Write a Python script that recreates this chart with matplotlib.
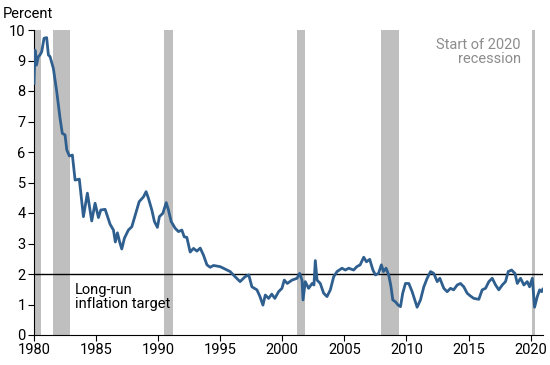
import matplotlib
matplotlib.use("Agg")
import matplotlib.pyplot as plt

# inflation series (decimal year, percent)
dates = [1980.0, 1980.08, 1980.2, 1980.35, 1980.48, 1980.62, 1980.81, 1981.02, 1981.16, 1981.29,
         1981.56, 1981.83, 1982.1, 1982.28, 1982.5, 1982.64, 1982.85, 1983.09, 1983.31, 1983.65,
         1983.98, 1984.3, 1984.65, 1984.92, 1985.19, 1985.38, 1985.73, 1986.13, 1986.4, 1986.55,
         1986.72, 1986.9, 1987.07, 1987.28, 1987.6, 1987.88, 1988.15, 1988.47, 1988.82, 1989.03,
         1989.22, 1989.49, 1989.7, 1989.94, 1990.1, 1990.38, 1990.65, 1990.83, 1991.05, 1991.37,
         1991.64, 1991.91, 1992.1, 1992.31, 1992.58, 1992.85, 1993.12, 1993.39, 1993.65, 1993.93,
         1994.19, 1994.46, 1995.0, 1995.54, 1995.8, 1996.2, 1996.6, 1997.0, 1997.3, 1997.55,
         1997.96, 1998.2, 1998.44, 1998.63, 1998.9, 1999.15, 1999.4, 1999.7, 1999.97, 2000.16,
         2000.4, 2000.78, 2001.19, 2001.4, 2001.59, 2001.67, 2001.85, 2002.12, 2002.4, 2002.55,
         2002.66, 2002.8, 2003.06, 2003.33, 2003.6, 2003.87, 2004.14, 2004.41, 2004.81, 2005.08,
         2005.35, 2005.75, 2006.0, 2006.27, 2006.56, 2006.78, 2007.04, 2007.3, 2007.5, 2007.75,
         2007.98, 2008.15, 2008.36, 2008.57, 2008.75, 2008.9, 2009.11, 2009.33, 2009.52, 2009.7,
         2009.92, 2010.19, 2010.46, 2010.67, 2010.86, 2011.13, 2011.4, 2011.67, 2011.94, 2012.2,
         2012.48, 2012.69, 2013.01, 2013.28, 2013.55, 2013.8, 2014.09, 2014.35, 2014.62, 2014.89,
         2015.15, 2015.43, 2015.83, 2016.1, 2016.37, 2016.64, 2016.91, 2017.18, 2017.44, 2017.72,
         2017.98, 2018.2, 2018.47, 2018.74, 2018.93, 2019.19, 2019.46, 2019.73, 2019.92, 2020.14,
         2020.32, 2020.54, 2020.73, 2020.89, 2020.98]
inflation = [8.25, 9.34, 8.85, 9.13, 9.18, 9.29, 9.73, 9.75, 9.18, 9.13,
             8.74, 7.98, 7.1, 6.61, 6.56, 6.07, 5.87, 5.9, 5.08, 5.11,
             3.88, 4.65, 3.74, 4.32, 3.85, 4.1, 4.12, 3.63, 3.44, 3.05,
             3.35, 3.05, 2.82, 3.17, 3.44, 3.55, 3.93, 4.37, 4.53, 4.7,
             4.48, 4.1, 3.72, 3.53, 3.88, 3.99, 4.34, 4.1, 3.72, 3.5,
             3.39, 3.44, 3.22, 3.2, 2.72, 2.84, 2.75, 2.85, 2.62, 2.3,
             2.22, 2.28, 2.24, 2.13, 2.08, 1.91, 1.75, 1.91, 1.97, 1.58,
             1.48, 1.26, 0.98, 1.31, 1.2, 1.34, 1.2, 1.42, 1.53, 1.8,
             1.69, 1.8, 1.86, 2.02, 1.8, 1.15, 1.75, 1.53, 1.69, 1.64,
             2.44, 1.8, 1.69, 1.37, 1.26, 1.48, 1.91, 2.08, 2.19, 2.13,
             2.19, 2.13, 2.24, 2.3, 2.55, 2.4, 2.48, 2.13, 1.97, 2.02,
             2.3, 2.08, 2.19, 1.97, 1.6, 1.15, 1.09, 0.98, 0.93, 1.37,
             1.69, 1.69, 1.42, 1.15, 0.91, 1.15, 1.58, 1.86, 2.08, 2.02,
             1.75, 1.86, 1.53, 1.42, 1.53, 1.48, 1.64, 1.69, 1.58, 1.37,
             1.28, 1.2, 1.17, 1.48, 1.53, 1.75, 1.86, 1.64, 1.48, 1.64,
             1.75, 2.08, 2.13, 2.02, 1.69, 1.86, 1.64, 1.75, 1.58, 1.86,
             0.91, 1.26, 1.48, 1.42, 1.5]

# NBER recessions (start, end) as decimal years
rec_start = [1980.0, 1981.5, 1990.5, 2001.17, 2007.92, 2020.08]
rec_end = [1980.58, 1982.88, 1991.17, 2001.83, 2009.42, 2020.33]

target = 2.0
xticks = [1980, 1985, 1990, 1995, 2000, 2005, 2010, 2015, 2020]
yticks = list(range(0, 11))

plt.rcParams['font.family'] = ['Roboto', 'DejaVu Sans']

fig = plt.figure(figsize=(5.5, 3.65), dpi=100)
ax = fig.add_axes([34 / 550, 30 / 365, 509 / 550, 305 / 365])

# shaded recessions
for s, e in zip(rec_start, rec_end):
    ax.axvspan(s, e, color='#bfbfbf', lw=0, zorder=1)

ax.axhline(target, color='black', lw=1.0, zorder=2)
ax.plot(dates, inflation, color='#2f5f8f', lw=2.0, zorder=3, solid_joinstyle='round')

ax.set_xlim(1980, 2021)
ax.set_ylim(0, 10)
ax.set_xticks(xticks)
ax.set_yticks(yticks)
ax.tick_params(labelsize=10.5, length=4, width=0.8, direction='out', pad=2)

for side in ['top', 'right']:
    ax.spines[side].set_visible(False)
for side in ['left', 'bottom']:
    ax.spines[side].set_linewidth(0.8)

fig.text(3 / 550, 1 - 14 / 365, 'Percent', fontsize=10.5, va='center', ha='left')

ax.text(1983.3, 1.72, 'Long-run\ninflation target', fontsize=10.5, va='top', ha='left',
        linespacing=1.05)
ax.text(2019.2, 9.75, 'Start of 2020\nrecession', fontsize=10.5, va='top', ha='right',
        color='#8c8c8c', linespacing=1.05)

fig.savefig('out.png', dpi=100)
